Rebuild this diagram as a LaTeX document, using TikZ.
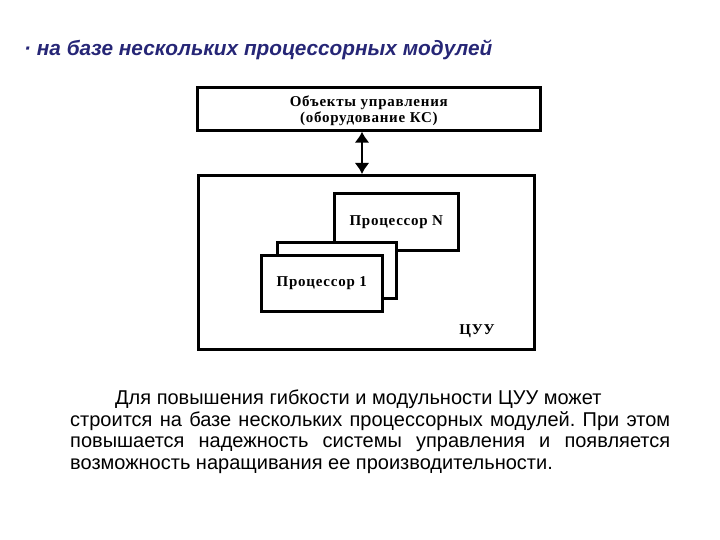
\documentclass[tikz,border=0pt]{standalone}
\usepackage{fontspec}
\usetikzlibrary{arrows.meta}
\setmainfont{Liberation Serif}
\newfontfamily\sansf{Liberation Sans}
\newfontfamily\diagf[LetterSpace=5]{Liberation Serif}
\definecolor{headblue}{RGB}{38,38,118}
\tikzset{
  blk/.style={draw=black, line width=2.6pt, fill=white, inner sep=0pt,
    font=\diagf\fontsize{15}{16.5}\selectfont\bfseries, align=center},
}
\begin{document}
\begin{tikzpicture}[x=1pt,y=-1pt]
\useasboundingbox (0,0) rectangle (720,540);
% heading
\node[anchor=west, font=\sansf\fontsize{20.8}{24}\selectfont\bfseries\itshape, text=headblue, inner sep=0pt] (head) at (24,50) {\textperiodcentered\ на базе нескольких процессорных модулей};
% top box
\node[blk, minimum width=343pt, minimum height=43pt, anchor=north west] (obj) at (196,86) {\rule{0pt}{14.5pt}Объекты управления\\(оборудование КС)};
% big box
\node[blk, minimum width=336pt, minimum height=174pt, anchor=north west] (cuu) at (197,174) {};
\node[font=\diagf\fontsize{15}{16}\selectfont\bfseries, inner sep=0pt] (cuul) at (477,331) {ЦУУ};
% processors
\node[blk, minimum width=124pt, minimum height=57pt, anchor=north west] (pN) at (333,192) {Процессор N};
\node[blk, minimum width=119pt, minimum height=56pt, anchor=north west] (pM) at (276,241) {};
\node[blk, minimum width=121pt, minimum height=56pt, anchor=north west] (p1) at (260,254) {Процессор 1};
% arrow
\coordinate (ax) at (362,150);
\draw[line width=2.2pt, -{Latex[length=11pt,width=15pt]}] (ax) -- (obj.south -| ax);
\draw[line width=2.2pt, -{Latex[length=11pt,width=15pt]}] (ax) -- (cuu.north -| ax);
% paragraph
\node[anchor=north west, inner sep=0pt, text width=600pt, align=justify, font=\sansf\fontsize{20}{21.5}\selectfont] (txt) at (70,390) {\frenchspacing\hspace*{45pt}Для повышения гибкости и модульности ЦУУ может\\строится на базе нескольких процессорных модулей. При этом\linebreak повышается надежность системы управления и появляется\linebreak возможность наращивания ее производительности.};
\end{tikzpicture}
\end{document}
